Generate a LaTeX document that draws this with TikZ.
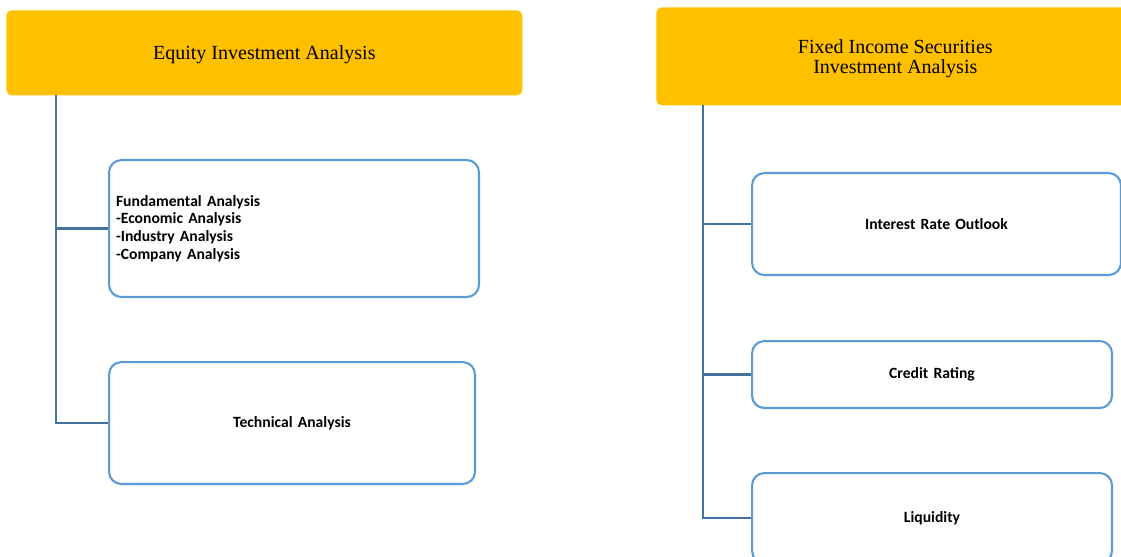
\documentclass[tikz,border=0pt]{standalone}
\usepackage{fontspec}
\setmainfont{Liberation Serif}
\newfontfamily\boxfont{Carlito}
\usepackage{tikz}
\usetikzlibrary{positioning}
\definecolor{gold}{RGB}{255, 192, 0}
\definecolor{frame}{RGB}{91, 155, 213}
\definecolor{trunk}{RGB}{65, 113, 156}

\begin{document}
\begin{tikzpicture}[
    x=0.02cm, y=-0.02cm,
    header/.style={rectangle, rounded corners=3pt, fill=gold, anchor=north west,
                   align=center, text depth=0pt, font=\fontsize{11.4}{11.6}\selectfont},
    item/.style={rectangle, rounded corners=7pt, draw=frame, line width=1.2pt,
                 fill=white, anchor=north west, inner xsep=0.14cm,
                 font=\boxfont\bfseries\fontsize{8.9}{10.1}\selectfont},
    link/.style={trunk, line width=1.2pt}
]
\useasboundingbox (0,0) rectangle (1121,557);

% Headers
\node[header, minimum width=10.32cm, minimum height=1.7cm] (equity) at (6,10)
    {Equity Investment Analysis};
\node[header, minimum width=9.56cm, minimum height=1.96cm] (fixed) at (656,7)
    {Fixed Income Securities\\Investment Analysis};

% Equity branches
\node[item, text width=7.12cm, align=left, minimum height=2.74cm] (fund) at (108,159)
    {Fundamental Analysis\\-Economic Analysis\\-Industry Analysis\\-Company Analysis};
\node[item, text width=7.04cm, align=center, minimum height=2.44cm] (tech) at (108,361)
    {Technical Analysis};

% Fixed income branches
\node[item, text width=7.1cm, align=center, minimum height=2.04cm] (rate) at (751,172)
    {Interest Rate Outlook};
\node[item, text width=6.92cm, align=center, minimum height=1.34cm] (credit) at (751,340)
    {Credit Rating};
\node[item, text width=6.92cm, align=center, minimum height=1.8cm] (liquid) at (751,472)
    {Liquidity};

% Trunks
\coordinate (eqroot) at (56,95);
\coordinate (firoot) at (703,105);
\draw[link] (eqroot) |- (fund.west);
\draw[link] (eqroot) |- (tech.west);
\draw[link] (firoot) |- (rate.west);
\draw[link] (firoot) |- (credit.west);
\draw[link] (firoot) |- (liquid.west);
\end{tikzpicture}
\end{document}
